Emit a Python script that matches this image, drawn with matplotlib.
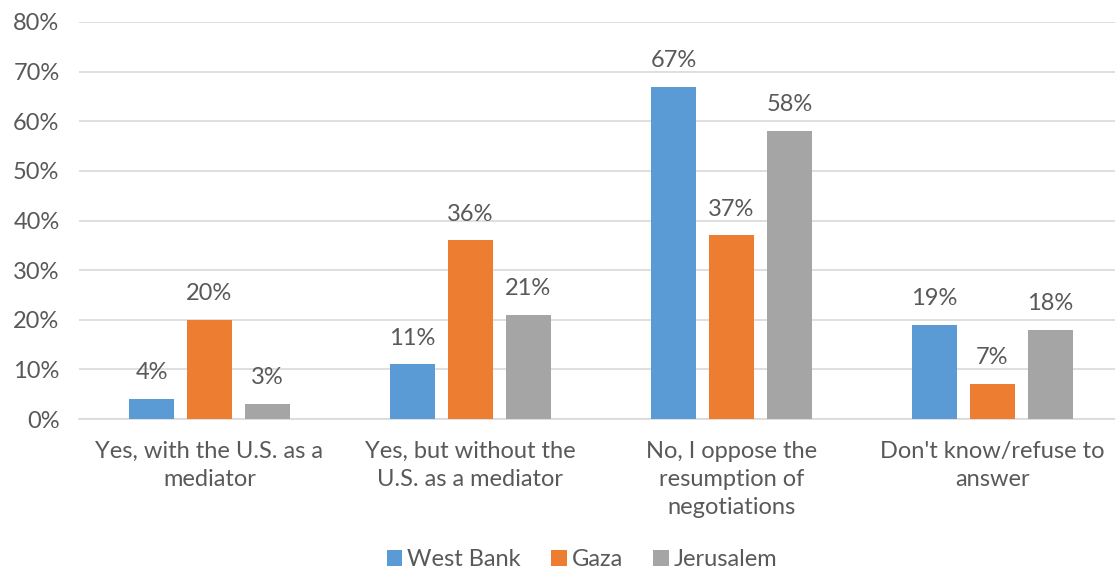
import matplotlib
matplotlib.use("Agg")
import matplotlib.pyplot as plt
import numpy as np

categories = ["Yes, with the U.S. as a\nmediator", "Yes, but without the\nU.S. as a mediator",
              "No, I oppose the\nresumption of\nnegotiations", "Don't know/refuse to\nanswer"]
series_names = ["West Bank", "Gaza", "Jerusalem"]
west_bank = [4, 11, 67, 19]
gaza = [20, 36, 37, 7]
jerusalem = [3, 21, 58, 18]
colors = ["#5B9BD5", "#ED7D31", "#A5A5A5"]
yticks = [0, 10, 20, 30, 40, 50, 60, 70, 80]

plt.rcParams['font.family'] = ['Lato', 'DejaVu Sans']
text_color = "#595959"
fs = 17

fig = plt.figure(figsize=(11.15, 5.74), dpi=100)
ax = fig.add_axes([79/1115, 1 - 419/574, 1044/1115, (419-22)/574])

x = np.arange(len(categories))
width = 0.172
step = 0.222
for i, (vals, name, c) in enumerate(zip([west_bank, gaza, jerusalem], series_names, colors)):
    pos = x + (i - 1) * step
    ax.bar(pos, vals, width, color=c, label=name, zorder=3)
    for p, v in zip(pos, vals):
        ax.text(p, v + 5.3, f"{v}%", ha="center", va="center", fontsize=fs, color=text_color)

ax.set_xlim(-0.5, len(categories) - 0.5)
ax.set_ylim(0, 80)
ax.set_yticks(yticks)
ax.set_yticklabels([f"{t}%" for t in yticks], fontsize=fs, color=text_color)
ax.set_xticks(x)
ax.set_xticklabels(categories, fontsize=fs, color=text_color, linespacing=1.4)
ax.tick_params(axis="both", length=0)
ax.tick_params(axis="y", pad=14)
ax.tick_params(axis="x", pad=16)
ax.grid(axis="y", color="#D9D9D9", linewidth=1.2, zorder=0)
for s in ["top", "right", "left"]:
    ax.spines[s].set_visible(False)
ax.spines["bottom"].set_color("#D9D9D9")
ax.spines["bottom"].set_linewidth(1.2)

leg = fig.legend(loc="lower center", bbox_to_anchor=(0.522, -0.03), ncol=3, frameon=False,
                 fontsize=fs, handlelength=0.65, handleheight=0.65, handletextpad=0.2,
                 columnspacing=1.3)
for t in leg.get_texts():
    t.set_color(text_color)

fig.savefig("out.png", dpi=100)
